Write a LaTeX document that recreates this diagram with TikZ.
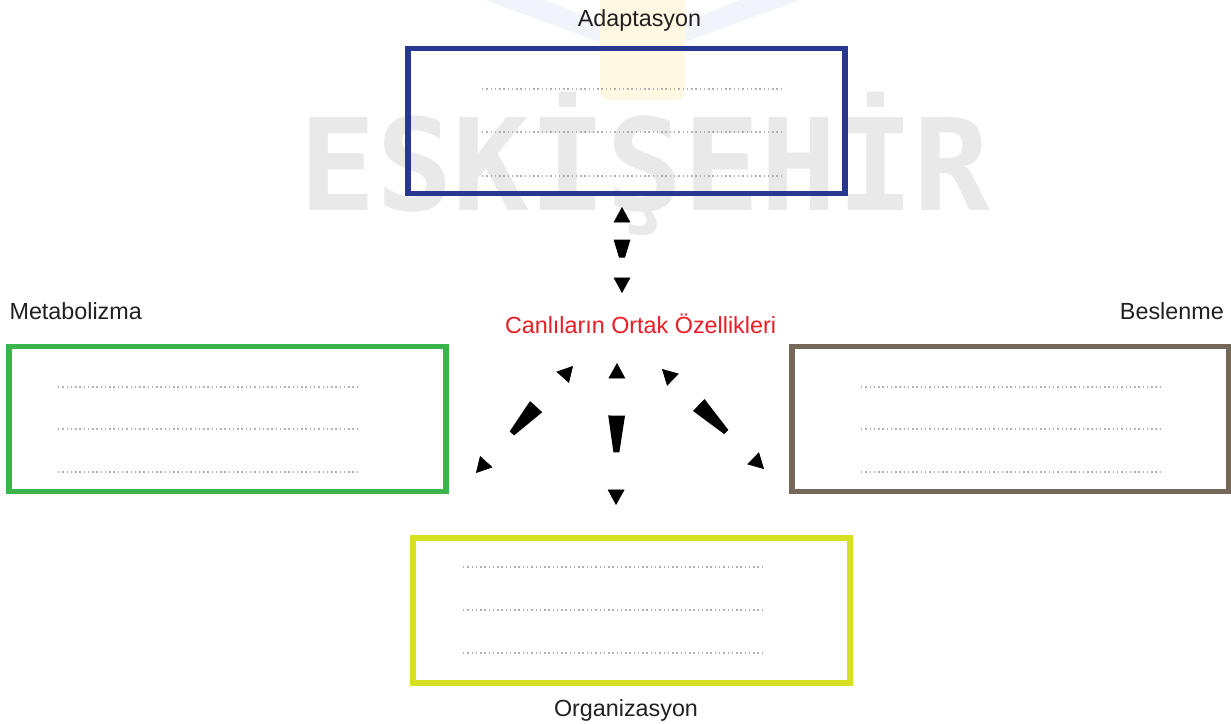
\documentclass[tikz,border=0pt]{standalone}
\usepackage{fontspec}
\setmainfont{Liberation Sans}
\newfontfamily\damgafont{DejaVu Sans Mono Bold}
\usetikzlibrary{arrows.meta,calc}

\definecolor{adaptmavi}{RGB}{40,56,145}
\definecolor{metayesil}{RGB}{57,181,74}
\definecolor{beskahve}{RGB}{117,104,89}
\definecolor{orgsari}{RGB}{215,223,35}
\definecolor{baslikkirmizi}{RGB}{237,28,36}
\definecolor{yazisiyah}{RGB}{35,31,32}
\definecolor{damgagri}{RGB}{233,233,233}
\definecolor{logosari}{RGB}{255,249,228}
\definecolor{logomavi}{RGB}{242,244,251}

\tikzset{
        kutu/.style={draw, line width=4pt, minimum width=327.75pt, minimum height=108.75pt, inner sep=0pt},
        etiket/.style={inner sep=0pt, text=yazisiyah, font=\fontsize{17.5}{21}\selectfont},
        noktali/.style={draw=gray!60, line width=1.5pt, dash pattern=on 1.1pt off 2.1pt},
        okucu/.style={line width=0.4pt, dash pattern=on 0pt off 2000pt,
                {Triangle[length=11.5pt,width=12.5pt]}-{Triangle[length=11.5pt,width=12.5pt]}}
}

\newcommand{\parca}[6]{\fill ($(#1)!#3!(#2)!#5!90:(#2)$) -- ($(#1)!#3!(#2)!#5!-90:(#2)$) -- ($(#1)!#4!(#2)!#6!-90:(#2)$) -- ($(#1)!#4!(#2)!#6!90:(#2)$) -- cycle;}

\begin{document}
\begin{tikzpicture}[x=0.75pt, y=-0.75pt]
        \useasboundingbox (0,0) rectangle (1231,724);

        % silik amblem ve damga
        \fill[logomavi] (485,0) -- (545,0) -- (600,22) -- (600,42) -- cycle;
        \fill[logomavi] (740,0) -- (800,0) -- (685,42) -- (685,22) -- cycle;
        \fill[logosari, rounded corners=6pt] (600,-10) rectangle (685,100);
        \node[font=\damgafont\fontsize{95.7}{100}\selectfont, text=damgagri, inner sep=0pt, anchor=base] (damga) at (645,210) {ESKİŞEHİR};

        \node[kutu, draw=adaptmavi] (adaptasyon) at (626.4,120.8) {};
        \node[kutu, draw=metayesil] (metabolizma) at (227.5,419) {};
        \node[kutu, draw=beskahve] (beslenme) at (1010.5,419) {};
        \node[kutu, draw=orgsari] (organizasyon) at (631.5,610.4) {};

        \foreach \y in {89,132,176} \draw[noktali] (482,\y) -- (782,\y);
        \foreach \y in {387,429,472} \draw[noktali] (58,\y) -- (358,\y);
        \foreach \y in {387,429,472} \draw[noktali] (861,\y) -- (1162,\y);
        \foreach \y in {567,610,653} \draw[noktali] (463,\y) -- (764,\y);

        \node[etiket, anchor=base] (adaptyazi) at (639.5,26.7) {Adaptasyon};
        \node[etiket, anchor=base west] (metayazi) at (9.3,319.3) {Metabolizma};
        \node[etiket, anchor=base east] (besyazi) at (1224,319) {Beslenme};
        \node[etiket, anchor=base] (orgyazi) at (626,716.7) {Organizasyon};
        \node[etiket, text=baslikkirmizi, anchor=base] (merkez) at (640.5,333.3) {Canlıların Ortak Özellikleri};

        % ok uclari
        \coordinate (ustA) at (622,293);
        \coordinate (ustB) at (622,207);
        \coordinate (altA) at (617,363);
        \coordinate (altB) at (616,505);
        \coordinate (solA) at (573,366);
        \coordinate (solB) at (476,473);
        \coordinate (sagA) at (662,369);
        \coordinate (sagB) at (764,469);

        \draw[okucu] (ustA) -- (ustB);
        \draw[okucu] (altA) -- (altB);
        \draw[okucu] (solA) -- (solB);
        \draw[okucu] (sagA) -- (sagB);

        \parca{ustA}{ustB}{0.41}{0.62}{2.2pt}{6.3pt}
        \parca{altA}{altB}{0.37}{0.63}{6.3pt}{2.2pt}
        \parca{solA}{solB}{0.38}{0.63}{6.2pt}{2.2pt}
        \parca{sagA}{sagB}{0.36}{0.63}{6.2pt}{2.2pt}
\end{tikzpicture}
\end{document}
